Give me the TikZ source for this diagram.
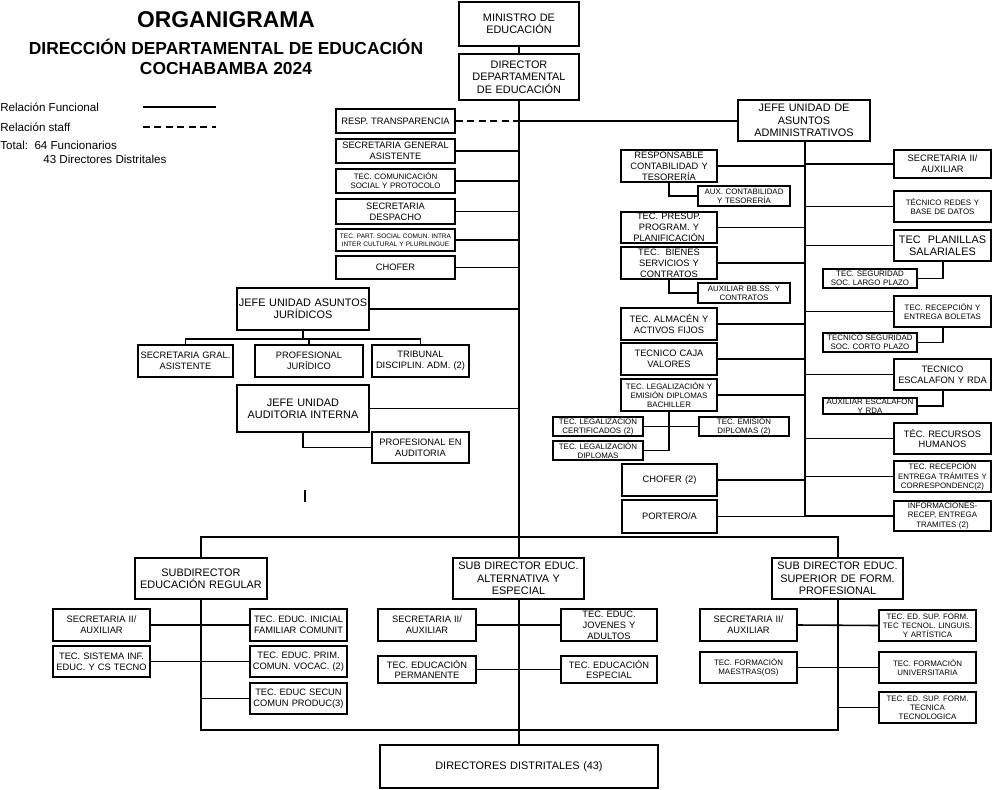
\documentclass[tikz,border=0pt]{standalone}
\usepackage{fontspec}
\setmainfont{Liberation Sans}
\newcommand\fA{\fontsize{6.2}{7}\selectfont}
\newcommand\fB{\fontsize{5.3}{6.2}\selectfont}
\newcommand\fC{\fontsize{4.5}{5.2}\selectfont}
\newcommand\fD{\fontsize{3.7}{4.3}\selectfont}
\tikzset{bx/.style={draw,line width=1pt,inner sep=0pt,align=center,fill=white},
 ln/.style={line width=0.9pt},
 spn/.style={line width=1.3pt}}
\newcommand\bx[7]{%
 \pgfmathsetmacro\bxw{(#4-#2)*0.02*28.4528}%
 \pgfmathsetmacro\bxh{(#5-#3)*0.02*28.4528}%
 \pgfmathsetmacro\bxt{\bxw-1.5}%
 \node[bx,minimum width=\bxw pt,minimum height=\bxh pt,text width=\bxt pt,font=#6] (#1) at ({(#2+#4)/2},{(#3+#5)/2}) {#7};}
\begin{document}
\begin{tikzpicture}[x=0.02cm,y=-0.02cm]
\useasboundingbox (0,0) rectangle (992,789);
% titles
\node[font=\bfseries\fontsize{13}{15}\selectfont] (t1) at (226,20) {ORGANIGRAMA};
\node[font=\bfseries\fontsize{9.9}{12}\selectfont] (t2) at (226,47) {DIRECCIÓN DEPARTAMENTAL DE EDUCACIÓN};
\node[font=\bfseries\fontsize{9.9}{12}\selectfont] (t3) at (226,69) {COCHABAMBA 2024};
% legend
\tikzset{lg/.style={anchor=west,inner sep=0pt,font=\fontsize{6.6}{8}\selectfont}}
\node[lg] (l1) at (0,107) {Relación Funcional};
\node[lg] (l2) at (0,127) {Relación staff};
\node[lg] (l3) at (0,145) {Total:\ \ 64 Funcionarios};
\node[lg] (l4) at (43,159) {43 Directores Distritales};
\coordinate (lga) at (143,107); \coordinate (lgb) at (216,107);
\coordinate (lgc) at (143,127); \coordinate (lgd) at (216,127);
\draw[ln] (lga) -- (lgb);
\draw[ln,dashed,dash pattern=on 4pt off 2.5pt] (lgc) -- (lgd);
% top
\bx{min}{459}{2}{579}{46}{\fA}{MINISTRO DE\\EDUCACIÓN}
\bx{dir}{459}{54}{579}{100}{\fA}{DIRECTOR\\DEPARTAMENTAL\\DE EDUCACIÓN}
\bx{dd}{380}{745}{658}{788}{\fA}{DIRECTORES DISTRITALES (43)}
\draw[spn] (min.south) -- (dir.north);
\draw[spn] (dir.south) -- (dd.north);
\coordinate (sp) at (519,0);
% left staff
\bx{resp}{336}{109}{455}{133}{\fB}{RESP. TRANSPARENCIA}
\bx{sg}{336}{139}{455}{163}{\fB}{SECRETARIA GENERAL\\ASISTENTE}
\bx{tcs}{336}{169}{455}{193}{\fC}{TEC. COMUNICACIÓN\\SOCIAL Y PROTOCOLO}
\bx{sd}{336}{199}{455}{224}{\fB}{SECRETARIA\\DESPACHO}
\bx{tps}{336}{229}{455}{251}{\fD}{TEC. PART. SOCIAL COMUN. INTRA\\INTER CULTURAL Y PLURILINGUE}
\bx{ch}{336}{256}{455}{279}{\fB}{CHOFER}
\draw[ln,dashed,dash pattern=on 4pt off 2.5pt] (resp.east) -- (resp.east -| sp);
\foreach \n in {sg,tcs,sd,tps,ch} \draw[ln] (\n.east) -- (\n.east -| sp);
% juridicos
\bx{jj}{237}{288}{369}{330}{\fA}{JEFE UNIDAD ASUNTOS\\JURÍDICOS}
\bx{jj1}{138}{345}{233}{377}{\fB}{SECRETARIA GRAL.\\ASISTENTE}
\bx{jj2}{255}{345}{363}{377}{\fB}{PROFESIONAL\\JURÍDICO}
\bx{jj3}{372}{345}{469}{377}{\fB}{TRIBUNAL\\DISCIPLIN. ADM. (2)}
\coordinate (jjb) at (0,339);
\draw[ln] (jj.east) -- (jj.east -| sp);
\draw[ln] (jj.south) -- (jj.south |- jjb);
\draw[ln] (jj1.north) -- (jj1.north |- jjb) -- (jj3.north |- jjb) -- (jj3.north);
\draw[ln] (jj2.north) -- (jj2.north |- jjb);
\bx{ja}{237}{385}{369}{432}{\fA}{JEFE UNIDAD\\AUDITORIA INTERNA}
\bx{pa}{372}{432}{469}{463}{\fB}{PROFESIONAL EN\\AUDITORIA}
\draw[ln] (ja.east) -- (ja.east -| sp);
\draw[ln] (ja.south) |- (pa.west);
\coordinate (ia) at (305,490); \coordinate (ib) at (305,502);
\draw[line width=1pt] (ia) -- (ib);
% admin
\bx{jad}{738}{100}{870}{141}{\fA}{JEFE UNIDAD DE\\ASUNTOS\\ADMINISTRATIVOS}
\draw[ln] (jad.west |- resp.east) -- (resp.east -| sp);
\coordinate (ar) at (805,516);
\draw[ln] (jad.south -| ar) -- (ar);
\coordinate (ax) at (669,0); \coordinate (bx) at (943,0);
\bx{rc}{621}{150}{717}{182}{\fB}{RESPONSABLE\\CONTABILIDAD Y\\TESORERÍA}
\bx{ac}{698}{186}{790}{206}{\fC}{AUX. CONTABILIDAD\\Y TESORERÍA}
\bx{tp}{621}{212}{717}{243}{\fB}{TEC. PRESUP.\\PROGRAM. Y\\PLANIFICACIÓN}
\bx{tb}{621}{247}{717}{279}{\fB}{TEC.\ \ BIENES\\SERVICIOS Y\\CONTRATOS}
\bx{ab}{698}{283}{790}{303}{\fC}{AUXILIAR BB.SS. Y\\CONTRATOS}
\bx{ta}{621}{308}{717}{340}{\fB}{TEC. ALMACÉN Y\\ACTIVOS FIJOS}
\bx{cj}{621}{343}{717}{375}{\fB}{TECNICO CAJA\\VALORES}
\bx{tl}{621}{379}{717}{411}{\fC}{TEC. LEGALIZACIÓN Y\\EMISIÓN DIPLOMAS\\BACHILLER}
\bx{lc}{553}{417}{643}{436}{\fC}{TEC. LEGALIZACIÓN\\CERTIFICADOS (2)}
\bx{ed}{699}{417}{789}{436}{\fC}{TEC. EMISIÓN\\DIPLOMAS (2)}
\bx{ld}{553}{441}{643}{460}{\fC}{TEC. LEGALIZACIÓN\\DIPLOMAS}
\bx{c2}{622}{464}{717}{496}{\fB}{CHOFER (2)}
\bx{po}{622}{500}{717}{533}{\fB}{PORTERO/A}
\foreach \n in {rc,tp,tb,ta,cj,tl,c2,po} \draw[ln] (\n.east) -- (\n.east -| ar);
\draw[ln] (rc.south -| ax) |- (ac.west);
\draw[ln] (tb.south -| ax) |- (ab.west);
\draw[ln] (tl.south -| ax) |- (ld.east);
\draw[ln] (lc.east) -- (ed.west);
\bx{s2}{894}{150}{991}{178}{\fB}{SECRETARIA II/\\AUXILIAR}
\bx{rd}{894}{191}{991}{222}{\fC}{TÉCNICO REDES Y\\BASE DE DATOS}
\bx{pl}{894}{230}{991}{261}{\fA}{TEC\ \ PLANILLAS\\SALARIALES}
\bx{sl}{823}{269}{917}{288}{\fC}{TEC. SEGURIDAD\\SOC. LARGO PLAZO}
\bx{rb}{894}{296}{991}{327}{\fC}{TEC. RECEPCIÓN Y\\ENTREGA BOLETAS}
\bx{sc}{823}{333}{917}{352}{\fC}{TECNICO SEGURIDAD\\SOC. CORTO PLAZO}
\bx{es}{894}{359}{991}{390}{\fB}{TECNICO\\ESCALAFON Y RDA}
\bx{ae}{823}{398}{917}{414}{\fC}{AUXILIAR ESCALAFON\\Y RDA}
\bx{rh}{894}{423}{991}{454}{\fB}{TÉC. RECURSOS\\HUMANOS}
\bx{rt}{894}{461}{991}{492}{\fC}{TEC. RECEPCIÓN\\ENTREGA TRÁMITES Y\\CORRESPONDENC(2)}
\bx{inf}{894}{501}{991}{531}{\fC}{INFORMACIONES-\\RECEP, ENTREGA\\TRAMITES (2)}
\foreach \n in {s2,rd,pl,rb,es,rh,rt,inf} \draw[ln] (\n.west) -- (\n.west -| ar);
\draw[ln] (pl.south -| bx) |- (sl.east);
\draw[ln] (rb.south -| bx) |- (sc.east);
\draw[ln] (es.south -| bx) |- (ae.east);
% sub directors
\coordinate (hb) at (0,537); \coordinate (hc) at (0,730);
\bx{sr}{135}{558}{267}{599}{\fA}{SUBDIRECTOR\\EDUCACIÓN REGULAR}
\bx{sa}{453}{558}{584}{599}{\fA}{SUB DIRECTOR EDUC.\\ALTERNATIVA Y\\ESPECIAL}
\bx{ss}{772}{558}{903}{599}{\fA}{SUB DIRECTOR EDUC.\\SUPERIOR DE FORM.\\PROFESIONAL}
\coordinate (xr) at (201,0); \coordinate (xs) at (838,0);
\draw[ln] (sr.north -| xr) -- (xr |- hb) -- (xs |- hb) -- (ss.north -| xs);
\draw[ln] (sr.south -| xr) -- (xr |- hc) -- (xs |- hc) -- (ss.south -| xs);
% regular
\bx{r1}{53}{609}{150}{641}{\fB}{SECRETARIA II/\\AUXILIAR}
\bx{r2}{53}{646}{150}{677}{\fB}{TEC. SISTEMA INF.\\EDUC. Y CS TECNO}
\bx{r3}{250}{609}{347}{641}{\fB}{TEC. EDUC. INICIAL\\FAMILIAR COMUNIT}
\bx{r4}{250}{646}{347}{677}{\fB}{TEC. EDUC. PRIM.\\COMUN. VOCAC. (2)}
\bx{r5}{250}{683}{347}{714}{\fB}{TEC. EDUC SECUN\\COMUN PRODUC(3)}
\draw[ln] (r1.east) -- (r3.west);
\draw[ln] (r2.east) -- (r4.west);
\draw[ln] (r5.west) -- (r5.west -| xr);
% alternativa
\bx{a1}{378}{609}{476}{641}{\fB}{SECRETARIA II/\\AUXILIAR}
\bx{a2}{378}{656}{476}{683}{\fB}{TEC. EDUCACIÓN\\PERMANENTE}
\bx{a3}{561}{609}{657}{641}{\fB}{TEC. EDUC.\\JOVENES Y\\ADULTOS}
\bx{a4}{561}{656}{657}{683}{\fB}{TEC. EDUCACIÓN\\ESPECIAL}
\draw[ln] (a1.east) -- (a3.west);
\draw[ln] (a2.east) -- (a4.west);
% superior
\bx{u1}{700}{609}{797}{641}{\fB}{SECRETARIA II/\\AUXILIAR}
\bx{u2}{700}{652}{797}{683}{\fC}{TEC. FORMACIÓN\\MAESTRAS(OS)}
\bx{u3}{879}{610}{976}{641}{\fC}{TEC. ED. SUP. FORM.\\TEC TECNOL. LINGUIS.\\Y ARTÍSTICA}
\bx{u4}{879}{652}{976}{683}{\fC}{TEC. FORMACIÓN\\UNIVERSITARIA}
\bx{u5}{879}{692}{976}{723}{\fC}{TEC. ED. SUP. FORM.\\TECNICA\\TECNOLOGICA}
\draw[ln] (u1.east) -- (u3.west);
\draw[ln] (u2.east) -- (u4.west);
\draw[ln] (u5.west) -- (u5.west -| xs);
\end{tikzpicture}
\end{document}
